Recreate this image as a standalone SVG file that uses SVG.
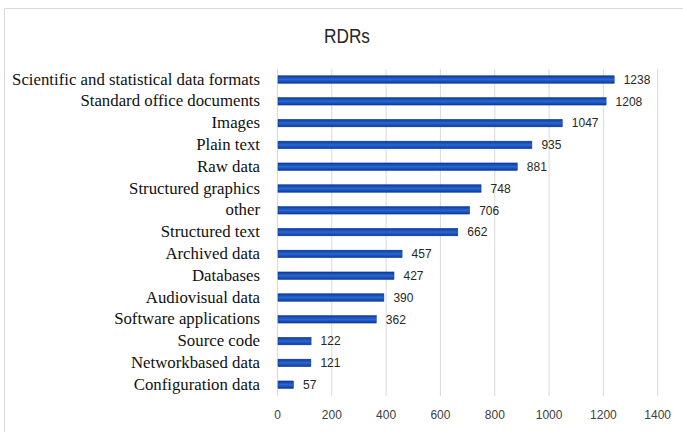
<svg xmlns="http://www.w3.org/2000/svg" width="683" height="432" viewBox="0 0 683 432">
<defs>
<linearGradient id="barG" x1="0" y1="0" x2="0" y2="1">
<stop offset="0" stop-color="#0a3a9c"/>
<stop offset="0.5" stop-color="#2a66d2"/>
<stop offset="1" stop-color="#0a3a9c"/>
</linearGradient>
<style>
.grid{stroke:#d9d9d9;stroke-width:1}
.bar{fill:url(#barG);stroke:#08339a;stroke-width:0.5}
.cat{font-family:"Liberation Serif","Times New Roman",serif;font-size:16.8px;fill:#111;text-anchor:end}
.val{font-family:"Liberation Sans",Arial,sans-serif;font-size:12px;fill:#262626}
.tick{font-family:"Liberation Sans",Arial,sans-serif;font-size:12px;fill:#404040;text-anchor:middle}
.title{font-family:"Liberation Sans",Arial,sans-serif;font-size:21px;fill:#262626;text-anchor:middle}
</style>
</defs>
<rect x="0" y="0" width="683" height="432" fill="#fff"/>
<path d="M4.5,432 V8.5 H683" fill="none" stroke="#d9d9d9" stroke-width="1"/>
<text class="title" x="347" y="43" textLength="46" lengthAdjust="spacingAndGlyphs">RDRs</text>
<g id="gridlines">
<line class="grid" x1="277.5" y1="69" x2="277.5" y2="396"/>
<line class="grid" x1="331.8" y1="69" x2="331.8" y2="396"/>
<line class="grid" x1="386.1" y1="69" x2="386.1" y2="396"/>
<line class="grid" x1="440.4" y1="69" x2="440.4" y2="396"/>
<line class="grid" x1="494.8" y1="69" x2="494.8" y2="396"/>
<line class="grid" x1="549.1" y1="69" x2="549.1" y2="396"/>
<line class="grid" x1="603.4" y1="69" x2="603.4" y2="396"/>
<line class="grid" x1="657.7" y1="69" x2="657.7" y2="396"/>
</g>
<g id="axis-labels">
<text class="tick" x="277.5" y="418.5">0</text>
<text class="tick" x="331.8" y="418.5">200</text>
<text class="tick" x="386.1" y="418.5">400</text>
<text class="tick" x="440.4" y="418.5">600</text>
<text class="tick" x="494.8" y="418.5">800</text>
<text class="tick" x="549.1" y="418.5">1000</text>
<text class="tick" x="603.4" y="418.5">1200</text>
<text class="tick" x="657.7" y="418.5">1400</text>
</g>
<g id="row-scientific"><text class="cat" x="260" y="84.5">Scientific and statistical data formats</text><rect class="bar" x="278" y="75.75" width="336.2" height="7.5"/><text class="val" x="623.7" y="83.8">1238</text></g>
<g id="row-office"><text class="cat" x="260" y="106.3">Standard office documents</text><rect class="bar" x="278" y="97.55" width="328.1" height="7.5"/><text class="val" x="615.6" y="105.6">1208</text></g>
<g id="row-images"><text class="cat" x="260" y="128.1">Images</text><rect class="bar" x="278" y="119.35" width="284.3" height="7.5"/><text class="val" x="571.8" y="127.4">1047</text></g>
<g id="row-plain"><text class="cat" x="260" y="149.9">Plain text</text><rect class="bar" x="278" y="141.15" width="253.9" height="7.5"/><text class="val" x="541.4" y="149.2">935</text></g>
<g id="row-raw"><text class="cat" x="260" y="171.7">Raw data</text><rect class="bar" x="278" y="162.95" width="239.3" height="7.5"/><text class="val" x="526.8" y="171">881</text></g>
<g id="row-sgraphics"><text class="cat" x="260" y="193.5">Structured graphics</text><rect class="bar" x="278" y="184.75" width="203.1" height="7.5"/><text class="val" x="490.6" y="192.8">748</text></g>
<g id="row-other"><text class="cat" x="260" y="215.3">other</text><rect class="bar" x="278" y="206.55" width="191.7" height="7.5"/><text class="val" x="479.2" y="214.6">706</text></g>
<g id="row-stext"><text class="cat" x="260" y="237.1">Structured text</text><rect class="bar" x="278" y="228.35" width="179.8" height="7.5"/><text class="val" x="467.3" y="236.4">662</text></g>
<g id="row-archived"><text class="cat" x="260" y="258.9">Archived data</text><rect class="bar" x="278" y="250.15" width="124.1" height="7.5"/><text class="val" x="411.6" y="258.2">457</text></g>
<g id="row-databases"><text class="cat" x="260" y="280.7">Databases</text><rect class="bar" x="278" y="271.95" width="116" height="7.5"/><text class="val" x="403.5" y="280">427</text></g>
<g id="row-audiovisual"><text class="cat" x="260" y="302.5">Audiovisual data</text><rect class="bar" x="278" y="293.75" width="105.9" height="7.5"/><text class="val" x="393.4" y="301.8">390</text></g>
<g id="row-software"><text class="cat" x="260" y="324.3">Software applications</text><rect class="bar" x="278" y="315.55" width="98.3" height="7.5"/><text class="val" x="385.8" y="323.6">362</text></g>
<g id="row-source"><text class="cat" x="260" y="346.1">Source code</text><rect class="bar" x="278" y="337.35" width="33.1" height="7.5"/><text class="val" x="320.6" y="345.4">122</text></g>
<g id="row-network"><text class="cat" x="260" y="367.9">Networkbased data</text><rect class="bar" x="278" y="359.15" width="32.9" height="7.5"/><text class="val" x="320.4" y="367.2">121</text></g>
<g id="row-config"><text class="cat" x="260" y="389.7">Configuration data</text><rect class="bar" x="278" y="380.95" width="15.5" height="7.5"/><text class="val" x="303" y="389">57</text></g>
</svg>
